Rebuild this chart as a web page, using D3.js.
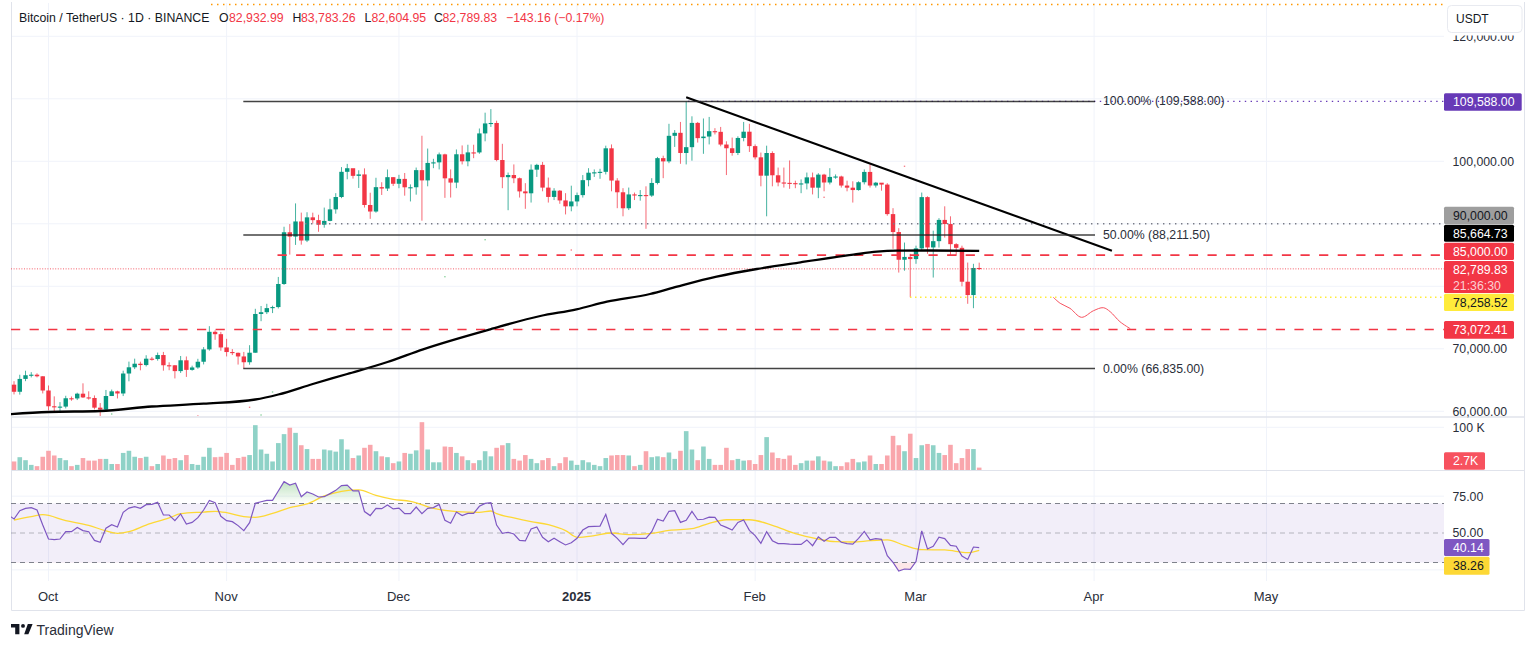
<!DOCTYPE html>
<html>
<head>
<meta charset="utf-8">
<script src="https://cdn.jsdelivr.net/npm/d3@7"></script>
<style>
  html, body { margin: 0; padding: 0; background: #fff; }
  svg { display: block; }
  text { font-family: "Liberation Sans", sans-serif; }
</style>
</head>
<body>
<svg id="chart" width="1536" height="648"></svg>
<script>
// daily candles, first one is Sep 24 2024 (sits behind the left edge)
const closes = [
  64260,63125,65181,65769,65858,65602,63327,
  60805,60649,60751,62086,62058,62819,62224,62131,60582,60274,62445,63193,62851,66046,67041,67612,67399,68418,68362,69001,67367,67361,66432,68161,66628,67014,67929,69907,72720,72339,70215,
  69482,69358,68775,67850,69372,75571,75857,76510,76677,80370,88647,87952,90375,87325,91032,90586,89855,90464,92310,94286,98317,98892,97672,97900,93010,91965,95863,95643,97460,96407,
  97185,95840,95849,98587,96945,99740,99831,101109,97276,96593,101125,100000,101424,101420,104463,106058,106133,100204,97461,97805,97291,95186,94881,98663,99429,95791,94299,95300,93738,92792,93576,
  94591,96984,98174,98236,98314,102078,96922,95043,92484,94701,94566,94600,94516,96534,100504,99987,104077,104556,101331,102260,106144,103706,103960,104819,104714,102682,102087,101332,103733,104736,102429,
  100635,97700,101328,97763,96612,96554,96506,96444,96462,97430,95778,97869,96608,97500,97569,96118,95780,95400,96650,98300,96125,96578,96274,91552,88680,84250,84700,84350,
  86064,94270,86220,87222,90623,89961,86742,86154,80734,78600,82932.99,82789.83
];
const firstOpen = 63328;
const highs = [
  64680,64817,65849,66498,66260,66076,65620,
  64130,62392,61470,62484,62370,62975,64478,63200,62543,61320,63417,63480,63300,66500,67950,68424,67940,68969,68700,69400,69500,67836,67400,68850,68771,67300,68400,70270,73620,72960,72700,
  71600,69950,69400,69500,70577,76400,76849,77199,76900,81500,89530,89956,93265,91789,91850,91779,91449,92594,94002,94902,99073,99588,98767,98564,98871,94973,97361,96650,98692,97463,
  97836,98130,96305,99000,104088,102040,100400,101400,101215,98700,101895,102540,102650,102650,105250,107780,108353,106500,102800,98200,99500,97400,96500,99500,99600,99900,97400,95700,95400,94900,96100,
  95000,97800,98900,98700,98800,102500,102700,97300,95700,95800,95000,95400,96000,97300,100700,100900,106000,105000,106300,109588,107200,106300,106850,107100,105300,105500,103200,103800,104000,106300,106000,
  102700,101400,102500,101600,99000,99000,100137,96900,97100,98200,98200,98100,98000,98900,97900,97700,96900,96800,96800,98700,99500,96700,96500,96500,92500,89300,87000,85200,
  86500,95000,94400,88900,90900,92800,91200,86900,86500,83800,83600,83783.26
];
const lows = [
  62700,62700,62670,64819,65420,65426,62856,
  60164,60000,59985,60459,61689,61798,62128,61860,60300,58946,60050,62445,62055,62437,64800,66750,66560,67177,68106,68100,66500,66571,65260,66139,65500,66500,66800,67500,69700,71436,69685,
  68779,69000,67478,66835,67458,69372,74417,75556,75714,76450,80216,85072,86623,86668,87073,90056,88722,89376,90400,91619,94100,97122,97233,95734,92600,90791,91778,94612,95246,96050,
  95693,94500,93578,94660,90500,96000,98900,98700,94150,94200,95700,99500,99200,100500,101200,103200,105500,100000,95700,92175,96500,94200,92400,93400,97500,95200,93400,93800,93200,91500,92000,
  92800,94200,96000,97500,97200,97900,95200,92500,91200,92200,93800,93700,89200,94300,96300,97300,99700,102300,99600,99500,100100,103000,101200,102700,104300,102400,97800,100900,101000,103200,101500,
  100300,96000,91200,96000,96000,95800,95600,95700,94900,95500,94700,94100,95200,96300,97200,95800,95200,93400,95300,96300,95800,95800,95300,91300,86000,82200,82500,78258.52,
  83600,85800,85200,81400,86200,87800,84900,84900,80000,77200,76500,82604.95
];
// volume in thousands
const volumes = [
  25,20,30,23,12,9,31,
  45,34,28,23,9,12,28,22,22,26,26,14,14,40,45,31,28,31,9,14,34,26,28,23,35,14,12,31,52,30,31,
  40,12,28,31,35,105,48,38,20,63,84,99,87,58,49,26,26,48,46,43,72,48,28,34,52,59,44,32,30,16,
  20,40,38,46,112,48,18,18,55,54,40,32,23,16,23,44,32,52,58,63,26,22,35,26,16,23,28,9,16,30,22,
  12,23,18,12,9,28,34,35,35,34,9,12,44,30,32,30,41,26,45,91,48,23,55,26,12,12,52,23,26,22,23,
  14,35,77,41,28,26,34,12,16,22,22,32,22,20,9,9,18,26,18,20,34,14,14,34,80,58,44,85,
  28,58,61,58,40,35,59,16,28,49,49,2.7
];
const rsi = [
  62.2,59.5,65.1,66.7,67.2,65.6,55.4,
  45.9,45.5,45.9,50.9,50.9,53.8,51.6,50.9,45,43.7,53.2,55.6,54.1,64,66.9,67.9,66.7,69.2,69.4,70.8,62.2,62.2,58.4,62.9,56.1,57.2,60.4,65.6,72.1,70.6,61.3,
  58.4,57.7,55,51.6,57,70.1,71.2,72.1,72.1,78.5,84.8,82.5,83.7,74.6,77.8,76.4,74.4,74.6,76.7,78.9,82.1,82.5,78.5,78.5,64.5,61.8,66.7,66.5,69,66.3,
  66.9,63.1,63.1,67.6,63.1,66.7,67.2,69.4,58.6,56.6,64.2,61.8,63.3,63.3,68.1,70.1,70.6,55.4,49.8,50.5,49.3,45,44.6,52.7,54.1,47.1,44.1,46.4,44.1,41.9,43.4,
  46.4,52,54.3,54.5,54.7,62.7,49.8,46.4,42.1,46.6,46.5,46.4,46.4,50.9,59.3,58.1,64.7,65.1,57.2,58.6,64.7,59,59.3,60.8,60.6,55.4,53.8,52,57.2,58.8,51.8,
  48.2,43,50.9,44.8,42.8,42.8,42.5,42.3,42.3,45.3,41.4,47.3,44.4,47.1,47.1,43.7,42.8,42.5,46.4,51.1,45.3,46.2,45.7,34.6,30.1,24.2,25.6,25.4,
  30.6,51.4,39.2,41,47.1,46.2,41.6,41,34.4,32.1,40.5,40.14
];
// smooth lines read at a few days (day number counted from Sep 24)
const rsiMaDays = [1,4,6,10,14,17,19,21,24,28,30,34,36,38,41,43,46,49,52,55,58,61,64,67,70,74,78,82,84,85,88,91,94,97,99,102,105,108,112,115,119,122,125,129,133,137,141,144,147,150,153,156,159,163,167,169];
const rsiMaValues = [58.8,61.1,62.4,58.4,55.2,51.4,49.8,50.9,55.4,60.2,63.1,64.2,64.7,63.8,61.1,60.6,63.3,67.2,69.7,75.1,78.2,79.2,75.5,72.8,71.5,66.7,64.5,64,64.9,63.1,60.2,57.7,55.6,51.6,47.1,48.2,50,48.9,49.8,51.8,52.9,56.6,59,59,55.2,49.5,45.9,44.1,43.9,44.8,45.3,41.6,38.7,38.5,36.7,38.26];
const smaDays = [0,7,16,25,34,43,47,53,59,66,72.2,83.9,92.6,98.9,104.2,111.7,116.4,123.3,130.3,137.9,147.1,151.2,154.7,160,169];
const smaValues = [59536,59888,60048,60768,61216,61888,62688,64368,65968,67888,69920,73120,75248,76320,77536,78768,79936,81536,82768,83840,85056,85536,85696,85728,85664.73];
const trendDays = [118,192.1];
const trendValues = [110240,85696];
const pathDays = [181.9,183.1,184.8,186.8,188.9,190.6,191.8,193.5,195.3];
const pathValues = [78240,77280,76480,75040,76096,76576,75936,74336,73216];

// little markers scattered around the price pane
const dotDays = [83,98,76,156,46,42,44,33,18,142];
const dotValues = [87456,85808,81536,99200,63088,60640,59408,59248,59568,94240];
const dotUp = [true,false,true,false,true,false,true,false,true,false];

const fibLevels = [109588,88211.5,66835];
const fibLabels = ["100.00% (109,588.00)","50.00% (88,211.50)","0.00% (66,835.00)"];
const priceTicks = [120000,100000,70000,60000];
const monthDates = [new Date(Date.UTC(2024,9,1)),new Date(Date.UTC(2024,10,1)),new Date(Date.UTC(2024,11,1)),new Date(Date.UTC(2025,0,1)),new Date(Date.UTC(2025,1,1)),new Date(Date.UTC(2025,2,1)),new Date(Date.UTC(2025,3,1)),new Date(Date.UTC(2025,4,1))];
const monthLabels = ["Oct","Nov","Dec","2025","Feb","Mar","Apr","May"];
const gridPrices = [120000,110000,100000,90000,80000,70000,60000];

const GREEN = "#089981", RED = "#f23645";
const plotL = 11, plotR = 1444, axisR = 1524;
const DAY = 86400000, t0 = Date.UTC(2024,8,24);
const dayDate = d => new Date(t0 + d*DAY);

const x = d3.scaleUtc().domain([monthDates[0], monthDates[5]]).range([48.5, 916]);
const y = d3.scaleLinear().domain([60000,100000]).range([411.3,161.3]);
const yVol = d3.scaleLinear().domain([0,100]).range([470,427.3]);
const yRsi = d3.scaleLinear().domain([30,70]).range([562.5,503.5]);
const xd = d => x(dayDate(d));

const svg = d3.select("#chart");
const defs = svg.append("defs");
defs.append("clipPath").attr("id","mainClip").append("rect").attr("x",plotL).attr("y",3).attr("width",plotR-plotL).attr("height",413);
defs.append("clipPath").attr("id","volClip").append("rect").attr("x",plotL).attr("y",418).attr("width",plotR-plotL).attr("height",52);
defs.append("clipPath").attr("id","rsiClip").append("rect").attr("x",plotL).attr("y",471).attr("width",plotR-plotL).attr("height",110);
defs.append("clipPath").attr("id","over").append("rect").attr("x",plotL).attr("y",471).attr("width",plotR-plotL).attr("height",yRsi(70)-471);
defs.append("clipPath").attr("id","under").append("rect").attr("x",plotL).attr("y",yRsi(30)).attr("width",plotR-plotL).attr("height",30);
const grad = defs.append("linearGradient").attr("id","overFill").attr("gradientUnits","userSpaceOnUse")
  .attr("x1",0).attr("x2",0).attr("y1",yRsi(85)).attr("y2",yRsi(70));
grad.append("stop").attr("offset","0%").attr("stop-color","#4caf50").attr("stop-opacity",0.35);
grad.append("stop").attr("offset","100%").attr("stop-color","#4caf50").attr("stop-opacity",0);

// frame and grid
const gridCol = "#f0f3fa", sepCol = "#e0e3eb";
const grid = svg.append("g");
gridPrices.forEach(p => grid.append("line").attr("x1",plotL).attr("x2",plotR).attr("y1",y(p)).attr("y2",y(p)).attr("stroke",gridCol));
monthDates.forEach(d => grid.append("line").attr("x1",x(d)).attr("x2",x(d)).attr("y1",3).attr("y2",581).attr("stroke",gridCol));
[yVol(100),yRsi(75),yRsi(25)].forEach(v => grid.append("line").attr("x1",plotL).attr("x2",plotR).attr("y1",v).attr("y2",v).attr("stroke",gridCol));
svg.append("path").attr("d",`M${plotL+.5} 2V610.5H${axisR+.5}V2`).attr("fill","none").attr("stroke",sepCol);
svg.append("line").attr("x1",plotL).attr("x2",axisR).attr("y1",417).attr("y2",417).attr("stroke",sepCol).attr("stroke-width",1.6);
svg.append("line").attr("x1",plotL).attr("x2",axisR).attr("y1",470.5).attr("y2",470.5).attr("stroke",sepCol);

// candles
const main = svg.append("g").attr("clip-path","url(#mainClip)");
const opens = [firstOpen].concat(closes.slice(0,-1));
const candles = closes.map((c,i) => ({i, o:opens[i], h:highs[i], l:lows[i], c}));
main.append("g").selectAll("line").data(candles).join("line")
  .attr("x1",d=>xd(d.i)).attr("x2",d=>xd(d.i)).attr("y1",d=>y(d.h)).attr("y2",d=>y(d.l))
  .attr("stroke",d=>d.c>=d.o?GREEN:RED).attr("stroke-width",1).attr("stroke-opacity",.75);
main.append("g").selectAll("rect").data(candles).join("rect")
  .attr("x",d=>xd(d.i)-2.2).attr("width",4.4)
  .attr("y",d=>Math.min(y(d.o),y(d.c)))
  .attr("height",d=>Math.max(1.1,Math.abs(y(d.o)-y(d.c))))
  .attr("fill",d=>d.c>=d.o?GREEN:RED);

main.append("g").selectAll("rect").data(dotDays).join("rect")
  .attr("x",d=>xd(d)-.7).attr("width",1.4).attr("height",1.4)
  .attr("y",(d,i)=>y(dotValues[i])-.7)
  .attr("fill",(d,i)=>dotUp[i]?"#8fd3a0":"#f7828c");

// level lines
function hline(price, from, to, col, w, dash, op) {
  main.append("line").attr("x1",from).attr("x2",to).attr("y1",y(price)).attr("y2",y(price))
    .attr("stroke",col).attr("stroke-width",w).attr("stroke-dasharray",dash).attr("stroke-opacity",op||1);
}
hline(125088, 211, plotR, "#ff9800", 1.5, "1.5 4.5");   // dotted level at the top edge
hline(109588, 688, plotR, "#673ab7", 1.4, "1.4 4.4");
hline(90000, 305, plotR, "#787b86", 1.4, "1.4 4.6");
hline(85000, 277.5, plotR, "#f23645", 1.8, "9.2 9.4");
hline(82789.83, plotL, plotR, "#f23645", 1, "1 1.6", .8);
hline(78258.52, 910, plotR, "#ffeb3b", 1.5, "1.5 3.5");
hline(73072.41, plotL, plotR, "#f23645", 1.5, "9.2 9.4");

const curve = d3.curveMonotoneX;
const smaLine = d3.line().x((d,i)=>xd(smaDays[i])).y(d=>y(d)).curve(curve);
main.append("path").attr("d",smaLine(smaValues)).attr("fill","none").attr("stroke","#000").attr("stroke-width",2.3);

main.append("path").attr("d",d3.line().x((d,i)=>xd(trendDays[i])).y(d=>y(d))(trendValues))
  .attr("fill","none").attr("stroke","#000").attr("stroke-width",2);

main.append("path").attr("d",d3.line().x((d,i)=>xd(pathDays[i])).y(d=>y(d)).curve(d3.curveCatmullRom)(pathValues))
  .attr("fill","none").attr("stroke","#f7525f").attr("stroke-width",1);

// fib retracement
const fibFrom = 243.3, fibTo = 1095;
fibLevels.forEach((p,i) => {
  main.append("line").attr("x1",fibFrom).attr("x2",fibTo).attr("y1",y(p)).attr("y2",y(p))
    .attr("stroke","#222").attr("stroke-width",1.5).attr("stroke-opacity",.85);
  main.append("text").attr("x",1103).attr("y",y(p)+4).attr("font-size",12.3).attr("fill","#2a2e39").text(fibLabels[i]);
});

// volume pane
svg.append("g").attr("clip-path","url(#volClip)").selectAll("rect").data(volumes).join("rect")
  .attr("x",(d,i)=>xd(i)-2.3).attr("width",4.6)
  .attr("y",d=>Math.min(yVol(d),yVol(0)-2.4)).attr("height",d=>Math.max(2.4,yVol(0)-yVol(d)))
  .attr("fill",(d,i)=>candles[i].c>=candles[i].o?"#8fd2c7":"#f9a6ac");

// rsi pane
const rsiG = svg.append("g").attr("clip-path","url(#rsiClip)");
rsiG.append("rect").attr("x",plotL).attr("width",plotR-plotL).attr("y",yRsi(70)).attr("height",yRsi(30)-yRsi(70)).attr("fill","#7e57c2").attr("fill-opacity",.1);
const rsiArea70 = d3.area().x((d,i)=>xd(i)).y0(yRsi(70)).y1(d=>yRsi(d));
rsiG.append("g").attr("clip-path","url(#over)").append("path").attr("d",rsiArea70(rsi)).attr("fill","url(#overFill)");
const rsiArea30 = d3.area().x((d,i)=>xd(i)).y0(yRsi(30)).y1(d=>yRsi(d));
rsiG.append("g").attr("clip-path","url(#under)").append("path").attr("d",rsiArea30(rsi)).attr("fill","#f23645").attr("fill-opacity",.12);
[[70,.95],[50,.5],[30,.95]].forEach(([v,op]) => rsiG.append("line").attr("x1",plotL).attr("x2",plotR).attr("y1",yRsi(v)).attr("y2",yRsi(v))
  .attr("stroke","#787b86").attr("stroke-opacity",op).attr("stroke-dasharray","5 4"));
rsiG.append("path").attr("d",d3.line().x((d,i)=>xd(rsiMaDays[i])).y(d=>yRsi(d)).curve(curve)(rsiMaValues))
  .attr("fill","none").attr("stroke","#fdd835").attr("stroke-width",1.3);
rsiG.append("path").attr("d",d3.line().x((d,i)=>xd(i)).y(d=>yRsi(d))(rsi))
  .attr("fill","none").attr("stroke","#7e57c2").attr("stroke-width",1.2);

// axes
const axisCol = "#2a2e39";
function styleAxis(g, size) {
  g.select(".domain").remove();
  g.selectAll(".tick line").remove();
  g.selectAll("text").attr("fill",axisCol).attr("font-size",size).attr("font-family",'"Liberation Sans", sans-serif');
}
const axP = svg.append("g").attr("transform","translate(1452.5,0)")
  .call(d3.axisRight(y).tickValues(priceTicks).tickSize(0).tickPadding(0).tickFormat(d=>d3.format(",.2f")(d)));
styleAxis(axP,12.3);
const axV = svg.append("g").attr("transform","translate(1452.5,0)")
  .call(d3.axisRight(yVol).tickValues([100]).tickSize(0).tickPadding(0).tickFormat(d=>d+" K"));
styleAxis(axV,12.3);
const axR = svg.append("g").attr("transform","translate(1452.5,0)")
  .call(d3.axisRight(d3.scaleLinear().domain([50,75]).range([533,496.1]))
    .tickValues([75,50]).tickSize(0).tickPadding(0).tickFormat(d=>d3.format(".2f")(d)));
styleAxis(axR,12.3);
const axT = svg.append("g").attr("transform","translate(-1,584.5)")
  .call(d3.axisBottom(x).tickValues(monthDates).tickSize(0).tickPadding(7).tickFormat((d,i)=>monthLabels[i]));
styleAxis(axT,13);
axT.selectAll("text").attr("font-weight",(d,i)=>i==3?"bold":"normal");

// USDT box, its white backing hides the top of the 120,000 label
svg.append("rect").attr("x",1445).attr("y",3).attr("width",78).attr("height",32.5).attr("fill","#fff");
svg.append("rect").attr("x",1447.5).attr("y",5.5).attr("width",74.5).attr("height",27).attr("rx",4).attr("fill","#fff").attr("stroke","#e8eaf0");
svg.append("text").attr("x",1456).attr("y",23).attr("font-size",12).attr("fill","#131722").text("USDT");

// price tags on the right axis
function tag(text, top, bottom, right, fill, col, text2) {
  svg.append("rect").attr("x",plotR).attr("y",top).attr("width",right-plotR).attr("height",bottom-top).attr("rx",1.5).attr("fill",fill);
  const cy = text2 ? top+9 : (top+bottom)/2;
  svg.append("text").attr("x",1453).attr("y",cy+4.3).attr("font-size",12.3).attr("fill",col).text(text);
  if (text2) svg.append("text").attr("x",1453).attr("y",cy+20).attr("font-size",12.3).attr("fill","#fbd0d4").text(text2);
}
tag("109,588.00",93.3,110.7,1521.7,"#673ab7","#fff");
tag("90,000.00",206.7,224,1514,"#9e9e9e","#131722");
tag("85,664.73",224.8,241.8,1514,"#000","#fff");
tag("85,000.00",242.7,260,1514,"#f23645","#fff");
tag("82,789.83",261,293,1514,"#f23645","#fff","21:36:30");
tag("78,258.52",293.7,311,1514,"#ffeb3b","#131722");
tag("73,072.41",321,338.7,1514,"#f23645","#fff");
tag("2.7K",452.3,469.7,1485,"#f7525f","#fff");
tag("40.14",539,556,1489.5,"#7e57c2","#fff");
tag("38.26",556.7,574.7,1489.5,"#fdd835","#131722");

// header legend
const headParts = [[19,"Bitcoin / TetherUS · 1D · BINANCE","#131722"],[219,"O","#131722"],[229,"82,932.99",RED],[292.5,"H","#131722"],[301,"83,783.26",RED],[364.5,"L","#131722"],[371.5,"82,604.95",RED],[434,"C","#131722"],[442.5,"82,789.83",RED],[506,"−143.16 (−0.17%)",RED]];
headParts.forEach(p => svg.append("text").attr("x",p[0]).attr("y",22).attr("font-size",12.3).attr("fill",p[2]).text(p[1]));

// logo
const logo = svg.append("g").attr("transform","translate(11,624) scale(0.6)");
logo.append("path").attr("d","M0 0H14V17H7V6H0Z M22 17L28 0H36L29 17Z").attr("fill","#131722");
logo.append("circle").attr("cx",20).attr("cy",3.2).attr("r",3.2).attr("fill","#131722");
svg.append("text").attr("x",36.5).attr("y",635).attr("font-size",14).attr("fill","#2a2e39").text("TradingView");
</script>
</body>
</html>
